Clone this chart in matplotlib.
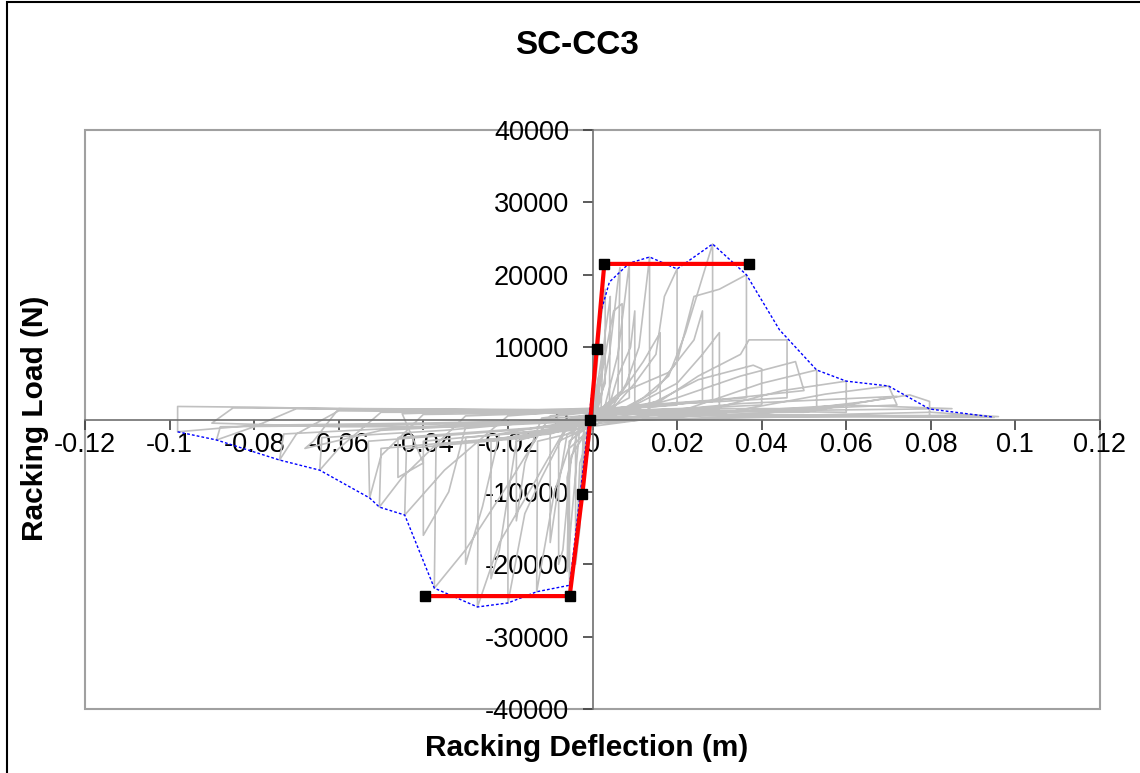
import matplotlib
matplotlib.use('Agg')
import matplotlib.pyplot as plt
from matplotlib.patches import Rectangle
from matplotlib.ticker import FuncFormatter

plt.rcParams['font.family'] = ['Liberation Sans', 'DejaVu Sans']

############################### DATA ###############################
# measured hysteresis record (deflection in m, load in N)
test_x = [0.0, 0.001, 0.0015, 0.0012, 0.0, -0.001, -0.0015, -0.0012, 0.0,
          0.002, 0.0025, 0.002, -0.001, -0.002, -0.0025, -0.002, 0.001,
          0.003, 0.004, 0.0042, 0.004, 0.001, -0.002, -0.003, -0.004, -0.004, -0.001,
          0.0, 0.002, 0.003, 0.003, 0.001, -0.002, -0.003, -0.004, -0.003, 0.0,
          0.002, 0.004, 0.006, 0.0065, 0.006, 0.001, -0.003, -0.005, -0.006, -0.0055, 0.0,
          0.004, 0.005, 0.007, 0.007, 0.002, -0.005, -0.007, -0.008, -0.008, 0.0,
          0.003, 0.006, 0.0087, 0.0087, 0.004, -0.003, -0.006, -0.0054, -0.0055, 0.0,
          0.003, 0.006, 0.009, 0.010, 0.010, 0.003, -0.006, -0.008, -0.010, -0.010, -0.002,
          0.005, 0.008, 0.011, 0.0135, 0.0135, 0.006, -0.004, -0.009, -0.0132, -0.013, -0.002,
          0.006, 0.012, 0.016, 0.016, 0.006, -0.012, -0.016, -0.018, -0.018, -0.004,
          0.004, 0.010, 0.015, 0.017, 0.020, 0.020, 0.008, -0.005, -0.012, -0.016, -0.020, -0.020, -0.005,
          0.008, 0.018, 0.024, 0.026, 0.026, 0.010, -0.018, -0.022, -0.024, -0.024, -0.006,
          0.005, 0.012, 0.018, 0.022, 0.0284, 0.0284, 0.010, -0.005, -0.015, -0.022, -0.0272, -0.027, -0.008,
          0.010, 0.020, 0.026, 0.030, 0.030, 0.008, -0.022, -0.026, -0.030, -0.030, -0.010,
          0.005, 0.015, 0.020, 0.024, 0.030, 0.0364, 0.0364, 0.012, -0.010, -0.020, -0.030, -0.0374, -0.037, -0.010,
          0.015, 0.025, 0.038, 0.040, 0.040, 0.010, -0.030, -0.034, -0.040, -0.040, -0.012,
          0.012, 0.025, 0.035, 0.037, 0.046, 0.046, 0.015, -0.020, -0.035, -0.0444, -0.044, -0.015,
          0.020, 0.035, 0.048, 0.050, 0.015, -0.045, -0.040, -0.046, -0.046, -0.015,
          0.020, 0.040, 0.053, 0.053, 0.020, -0.030, -0.045, -0.0504, -0.050, -0.020,
          0.025, 0.045, 0.060, 0.060, 0.025, -0.040, -0.050, -0.0527, -0.053, -0.030,
          0.030, 0.055, 0.070, 0.072, 0.030, -0.050, -0.060, -0.0645, -0.064, -0.035,
          0.035, 0.065, 0.072, 0.050, -0.060, -0.066, -0.068, -0.050, 0.0,
          0.040, 0.065, 0.075, 0.0797, 0.0797, 0.040, -0.060, -0.070, -0.074, -0.073, -0.040,
          0.030, 0.060, 0.085, 0.040, -0.085, -0.090, -0.060, -0.030, 0.0,
          0.050, 0.080, 0.096, 0.050, -0.070, -0.080, -0.0889, -0.088, -0.050,
          0.050, 0.090, 0.095, 0.040, -0.080, -0.0981, -0.0981, -0.080, -0.040, 0.0]
test_y = [0, 4000, 6000, 500, -300, -4000, -6000, -500, 300,
          8000, 10000, 1000, -500, -8000, -10000, -1000, 500,
          12000, 16000, 17000, 2000, 800, -500, -12000, -16000, -2000, -800,
          0, 14000, 18000, 5000, 2000, -3000, -15000, -20000, -6000, -1000,
          3000, 9000, 19000, 21000, 3000, 1000, -1000, -14000, -21000, -3000, -500,
          12000, 15000, 16000, 4000, 1500, -5000, -18000, -20000, -3000, -800,
          2000, 9000, 21600, 3000, 1500, -500, -8000, -22900, -4000, -1000,
          0, 6000, 10000, 15000, 1000, 500, -2000, -9000, -17000, -1500, -500,
          2000, 5000, 10000, 22450, 2000, 1500, -1000, -10000, -23800, -3000, -1500,
          3000, 8000, 12000, 2500, 1500, 200, -6000, -14000, -2000, -1000,
          1000, 5000, 9000, 17000, 20800, 2000, 1500, 0, -8000, -13000, -25350, -2500, -1500,
          4000, 6500, 11000, 15000, 2500, 1800, -3000, -18000, -22000, -3000, -1200,
          800, 3000, 6000, 12000, 24250, 2500, 1800, 200, -10000, -17000, -25900, -3000, -1500,
          2000, 5000, 9000, 12000, 1500, 1000, -2000, -12000, -20000, -2500, -1500,
          500, 4000, 8000, 17000, 18000, 20000, 3000, 2000, 500, -9000, -18000, -23300, -3500, -2000,
          2500, 5500, 7500, 7000, 2000, 1200, -1000, -10000, -16000, -3000, -1500,
          1000, 6000, 9000, 11000, 11000, 3000, 2000, 500, -7000, -13200, -4000, -2500,
          3000, 6000, 8000, 4000, 1800, 800, -6000, -8000, -2500, -1200,
          1000, 5000, 6840, 1500, 1500, 500, -8000, -12100, -4000, -2500,
          1000, 4000, 5300, 1000, 1200, 700, -5000, -10840, -3000, -2000,
          800, 3500, 4630, 2000, 1000, 1000, -4000, -7000, -2500, -1500,
          2200, 3000, 3200, 1000, 1500, -3000, -4000, -1500, 0,
          800, 2500, 3400, 2500, 500, 700, 1200, -2000, -5600, -2000, -1000,
          1000, 2000, 1500, 1200, 1600, -500, -1000, -1000, -200,
          600, 1000, 400, 500, 1500, -1000, -2830, -1000, -800,
          400, 600, 300, 400, 1700, 1800, -1700, -800, -500, 0]

# envelope curve
env_x = [-0.0981, -0.0889, -0.074, -0.0645, -0.0527, -0.0504, -0.0444, -0.0374,
         -0.0272, -0.020, -0.0132, -0.0054, 0.0021, 0.004, 0.0087, 0.0135, 0.020,
         0.0284, 0.0364, 0.0442, 0.053, 0.060, 0.070, 0.0797, 0.0946]
env_y = [-1700, -2830, -5600, -7000, -10840, -12100, -13200, -23300,
         -25900, -25350, -23800, -22900, 15100, 19000, 21600, 22450, 20800,
         24250, 20000, 12400, 6840, 5300, 4630, 1450, 350]

# bilinear fit
fit_x = [-0.0395, -0.0054, -0.0024, -0.0005, 0.001, 0.0028, 0.0371]
fit_y = [-24400, -24400, -10300, 0, 9700, 21500, 21500]

x_ticks = [-0.12, -0.1, -0.08, -0.06, -0.04, -0.02, 0, 0.02, 0.04, 0.06, 0.08, 0.1, 0.12]
y_ticks = [-40000, -30000, -20000, -10000, 0, 10000, 20000, 30000, 40000]

############################### PLOT ###############################
fig = plt.figure(figsize=(11.4, 7.73), dpi=100)
ax = fig.add_axes([85/1140, 1-709/773, 1015/1140, 579/773])

ax.plot(test_x, test_y, color='#c0c0c0', lw=1.2, zorder=2)
ax.plot(env_x, env_y, color='#0000ff', lw=1.0, ls=(0, (2, 1.5)), zorder=3)
ax.plot(fit_x, fit_y, color='#ff0000', lw=3, marker='s', ms=7,
        mfc='black', mec='black', zorder=4)

ax.set_xlim(-0.12, 0.12)
ax.set_ylim(-40000, 40000)
ax.set_xticks(x_ticks)
ax.set_yticks(y_ticks)
ax.xaxis.set_major_formatter(FuncFormatter(lambda v, p: f'{v:g}'))
ax.yaxis.set_major_formatter(FuncFormatter(lambda v, p: f'{v:g}'))

for s in ['top', 'right']:
    ax.spines[s].set_visible(False)
ax.spines['left'].set_position('zero')
ax.spines['bottom'].set_position('zero')
for s in ['left', 'bottom']:
    ax.spines[s].set_color('#707070')
    ax.spines[s].set_linewidth(1.2)
ax.tick_params(axis='both', direction='out', length=7, width=1.2, color='#404040',
               labelsize=19.5)
ax.tick_params(axis='y', pad=10)
ax.tick_params(axis='x', pad=2)
ax.set_axisbelow(True)

# plot area border
ax.add_patch(Rectangle((0, 0), 1, 1, transform=ax.transAxes, fill=False,
                       edgecolor='#a0a0a0', lw=1.5, clip_on=False, zorder=0))

fig.text(577/1140, 1-45/773, 'SC-CC3', ha='center', va='center',
         fontsize=24, fontweight='bold')
fig.text(587/1140, 1-748/773, 'Racking Deflection (m)', ha='center', va='center',
         fontsize=21.5, fontweight='bold')
fig.text(35/1140, 1-418/773, 'Racking Load (N)', ha='center', va='center',
         rotation=90, fontsize=21.5, fontweight='bold')

# chart frame
fig.patches.append(Rectangle((7/1140, -0.1), 1.2, 1.1 - 2/773, transform=fig.transFigure,
                             fill=False, edgecolor='black', lw=1.5))

fig.savefig('out.png', dpi=100)
